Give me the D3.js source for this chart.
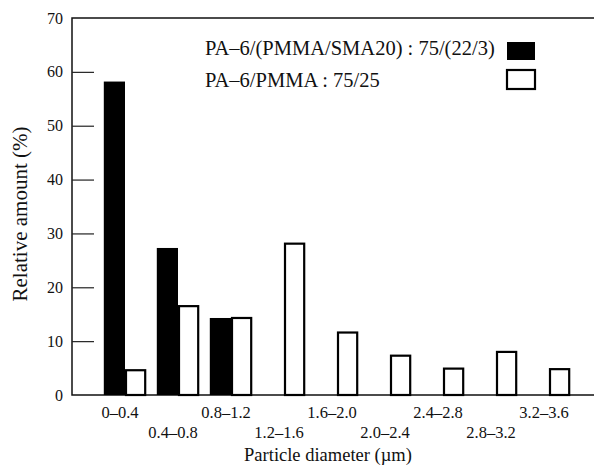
<!DOCTYPE html>
<html>
<head>
<meta charset="utf-8">
<script src="https://cdn.jsdelivr.net/npm/d3@7/dist/d3.min.js"></script>
<style>
  html, body { margin:0; padding:0; background:#fff; }
  svg text { font-family:"Liberation Serif","DejaVu Serif",serif; fill:#111; }
</style>
</head>
<body>
<div id="chart"></div>
<script>
// particle size classes (µm)
const categories = ["0–0.4","0.4–0.8","0.8–1.2","1.2–1.6","1.6–2.0","2.0–2.4","2.4–2.8","2.8–3.2","3.2–3.6"];
const seriesNames = ["PA–6/(PMMA/SMA20) : 75/(22/3)", "PA–6/PMMA : 75/25"];
const smaValues  = [58.2, 27.3, 14.3, 0, 0, 0, 0, 0, 0];
const pmmaValues = [4.6, 16.5, 14.3, 28.1, 11.6, 7.3, 4.9, 8.0, 4.8];
const yTicks = [0, 10, 20, 30, 40, 50, 60, 70];

const W = 594, H = 465;
const plotL = 72, plotR = 602, plotT = 18, plotB = 395;

const svg = d3.select("#chart").append("svg")
  .attr("width", W).attr("height", H);

const x0 = d3.scaleBand()
  .domain(categories)
  .range([plotL, plotR])
  .paddingInner(0.2)
  .paddingOuter(0.6);

const x1 = d3.scaleBand()
  .domain([0, 1])
  .range([0, x0.bandwidth()]);

const y = d3.scaleLinear().domain([0, 70]).range([plotB, plotT]);

// frame
svg.append("path")
  .attr("d", `M${W},${plotT}H${plotL}V${plotB}H${W}`)
  .attr("fill", "none")
  .attr("stroke", "#111")
  .attr("stroke-width", 1.5);

// inward y ticks
const yAxis = svg.append("g")
  .attr("transform", `translate(${plotL},0)`)
  .call(d3.axisRight(y).tickValues(yTicks.filter(d => d > 0 && d < 70)).tickSize(22).tickFormat(""));
yAxis.select(".domain").remove();
yAxis.selectAll("line").attr("stroke", "#222").attr("stroke-width", 1.2);

svg.append("g").selectAll("text")
  .data(yTicks)
  .enter()
  .append("text")
  .attr("x", plotL - 9)
  .attr("y", d => y(d) + 5.5)
  .attr("text-anchor", "end")
  .style("font-size", "16px")
  .text(d => d);

// bars
const groups = svg.append("g").selectAll("g")
  .data(categories)
  .enter()
  .append("g")
  .attr("transform", d => `translate(${x0(d)},0)`);

groups.append("rect")
  .attr("x", x1(0))
  .attr("width", x1.bandwidth())
  .attr("y", (d, i) => y(smaValues[i]))
  .attr("height", (d, i) => y(0) - y(smaValues[i]))
  .attr("fill", "#000");

groups.append("rect")
  .attr("x", x1(1) + 1)
  .attr("width", x1.bandwidth() - 2)
  .attr("y", (d, i) => y(pmmaValues[i]))
  .attr("height", (d, i) => y(0) - y(pmmaValues[i]))
  .attr("fill", "#fff")
  .attr("stroke", "#000")
  .attr("stroke-width", 2.2);

// staggered category labels
svg.append("g").selectAll("text")
  .data(categories)
  .enter()
  .append("text")
  .attr("x", d => x0(d) + x0.bandwidth() / 2 - 5)
  .attr("y", (d, i) => i % 2 === 0 ? 418 : 438)
  .attr("text-anchor", "middle")
  .style("font-size", "16.5px")
  .text(d => d);

svg.append("text")
  .attr("x", 328)
  .attr("y", 461)
  .attr("text-anchor", "middle")
  .style("font-size", "18.5px")
  .text("Particle diameter (µm)");

svg.append("text")
  .attr("transform", "translate(27,214) rotate(-90)")
  .attr("text-anchor", "middle")
  .style("font-size", "21px")
  .text("Relative amount (%)");

// legend
const legend = svg.append("g");
seriesNames.forEach((name, i) => {
  const ly = 55 + i * 32;
  legend.append("text")
    .attr("x", 205)
    .attr("y", ly)
    .style("font-size", "20.5px")
    .text(name);
  legend.append("rect")
    .attr("x", 507)
    .attr("y", ly - 13 + (i ? -4 : 0))
    .attr("width", 28)
    .attr("height", i ? 19 : 18)
    .attr("fill", i ? "#fff" : "#000")
    .attr("stroke", "#000")
    .attr("stroke-width", i ? 2.2 : 0);
});
</script>
</body>
</html>
